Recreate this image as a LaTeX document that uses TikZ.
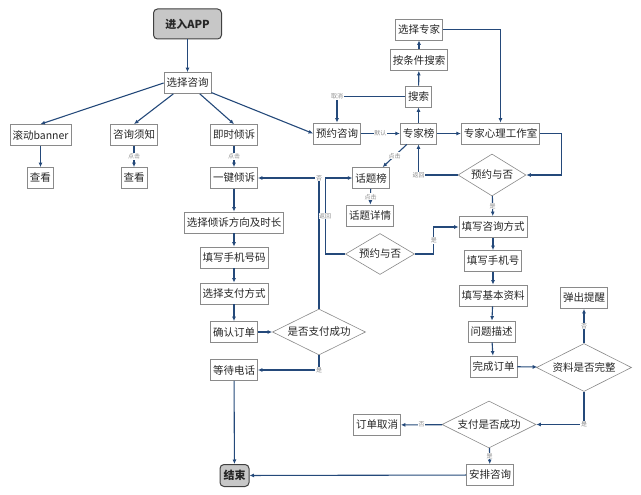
\documentclass[tikz,border=0pt]{standalone}
\usepackage{fontspec}
\setmainfont{Noto Sans CJK SC}
\usetikzlibrary{arrows.meta,positioning,shapes.geometric}
\definecolor{flowline}{HTML}{24497A}
\definecolor{boxgray}{HTML}{8A8A8A}

\begin{document}
\begin{tikzpicture}[x=1pt, y=-1pt, >={Latex[length=4.5pt,width=4pt]},
  every node/.style={font=\fontsize{10.5}{12}\selectfont, text=black!85},
  box/.style={draw=boxgray, line width=0.8pt, rectangle, minimum height=21pt, inner xsep=2.5pt, inner ysep=0pt, fill=white},
  term/.style={draw=black!75, line width=1pt, rounded corners=4pt, fill=black!22, font=\fontsize{11}{13}\selectfont\bfseries, inner sep=0pt},
  choice/.style={draw=boxgray, line width=0.6pt, diamond, aspect=2, inner sep=0pt, fill=white},
  link/.style={draw=flowline, line width=1.1pt, ->},
  tag/.style={font=\fontsize{6}{7}\selectfont, text=black!45, fill=white, inner sep=0.6pt}]

\useasboundingbox (0,0) rectangle (641,495);

% left part
\node[term, minimum width=68pt, minimum height=30pt] (enter) at (187.5,24) {进入APP};
\node[box] (pick) at (187.5,83) {选择咨询};
\node[box] (banner) at (40.5,135) {滚动banner};
\node[box] (notice) at (134,135) {咨询须知};
\node[box] (instant) at (234,135) {即时倾诉};
\node[box] (view1) at (40.5,178) {查看};
\node[box] (view2) at (134,178) {查看};
\node[box] (vent) at (234,178) {一键倾诉};
\node[box] (direction) at (234,222.5) {选择倾诉方向及时长};
\node[box] (phone) at (234,257.5) {填写手机号码};
\node[box] (payway) at (234,293.5) {选择支付方式};
\node[box] (confirm) at (234,332) {确认订单};
\node[choice, minimum width=93pt, minimum height=46pt] (paycheck) at (319,332) {是否支付成功};
\node[box] (wait) at (234,370) {等待电话};
\node[term, minimum width=29pt, minimum height=22pt] (finish) at (234.5,475.5) {结束};

% right part
\node[box] (reserve) at (337,133.5) {预约咨询};
\node[box] (ranking) at (418.5,133.5) {专家榜};
\node[box] (search) at (418.5,96.5) {搜索};
\node[box] (filter) at (419,60) {按条件搜索};
\node[box] (expert) at (419,29.5) {选择专家};
\node[box] (studio) at (500.5,133.5) {专家心理工作室};
\node[choice, minimum width=68pt, minimum height=42pt] (decide) at (492,175) {预约与否};
\node[box] (topics) at (371,178) {话题榜};
\node[box] (detail) at (370,215.5) {话题详情};
\node[choice, minimum width=69pt, minimum height=41pt] (reserveL) at (380,254) {预约与否};
\node[box] (method) at (493,227) {填写咨询方式};
\node[box] (phone2) at (493,261) {填写手机号};
\node[box] (info) at (493,295.5) {填写基本资料};
\node[box] (problem) at (491.5,331.5) {问题描述};
\node[box] (done) at (493.5,366.5) {完成订单};
\node[choice, minimum width=95pt, minimum height=48pt] (complete) at (584,367.5) {资料是否完整};
\node[box] (popup) at (584,298) {弹出提醒};
\node[choice, minimum width=94pt, minimum height=47pt] (paid) at (489,424.5) {支付是否成功};
\node[box] (cancel) at (377,425) {订单取消};
\node[box] (arrange) at (490,475) {安排咨询};

% connectors
\draw[link, line width=1.8pt] (enter) -- (pick);
\draw[link] (pick.west) -- (banner.north);
\draw[link] (pick) -- (notice.north);
\draw[link] (pick) -- (instant.north);
\draw[link] (pick) -- (reserve.west);
\draw[link] (banner) -- (view1);
\draw[link] (notice) -- node[tag]{点击} (view2);
\draw[link] (instant) -- node[tag]{点击} (vent);
\draw[link] (vent) -- (direction);
\draw[link] (direction) -- (phone);
\draw[link] (phone) -- (payway);
\draw[link] (payway) -- (confirm);
\draw[link] (confirm) -- (paycheck);
\draw[link] (paycheck.north) -- (paycheck.north |- vent) node[tag]{否} -- (vent);
\draw[link] (paycheck.south) -- (paycheck.south |- wait) node[tag]{是} -- (wait);
\draw[link] (wait) -- (finish);
\draw[link] (arrange) -- (finish);

\draw[link] (reserve) -- node[tag]{默认} (ranking);
\draw[link] (ranking) -- (search);
\draw[link] (search) -- (filter);
\draw[link] (filter) -- (expert);
\draw[link] (search.west) -- (reserve.north |- search) node[tag]{取消} -- (reserve.north);
\draw[link] (expert.east) -| (studio.north);
\draw[link] (ranking) -- (studio);
\draw[link] (studio.east) -- ++(21,0) |- (decide.east);
\draw[link] (decide.west) -| node[tag, pos=0.5]{返回} (ranking.south);
\draw[link] (ranking) -- node[tag]{点击} (topics);
\draw[link] (topics) -- node[tag]{点击} (detail);
\draw[link] (reserveL.west) -- ++(-20,0) |- node[tag, pos=0.25]{返回} (topics.west);
\draw[link] (reserveL.east) -- ++(19,0) |- node[tag, pos=0.25]{是} (method.west);
\draw[link] (decide) -- node[tag]{是} (method);
\draw[link] (method) -- (phone2);
\draw[link] (phone2) -- (info);
\draw[link] (info) -- (problem);
\draw[link] (problem) -- (done);
\draw[link] (done) -- (complete);
\draw[link] (complete) -- node[tag]{否} (popup);
\draw[link] (complete.south) |- node[tag, pos=0.5]{是} (paid.east);
\draw[link] (paid) -- node[tag]{否} (cancel);
\draw[link] (paid) -- node[tag]{是} (arrange);

\end{tikzpicture}
\end{document}
